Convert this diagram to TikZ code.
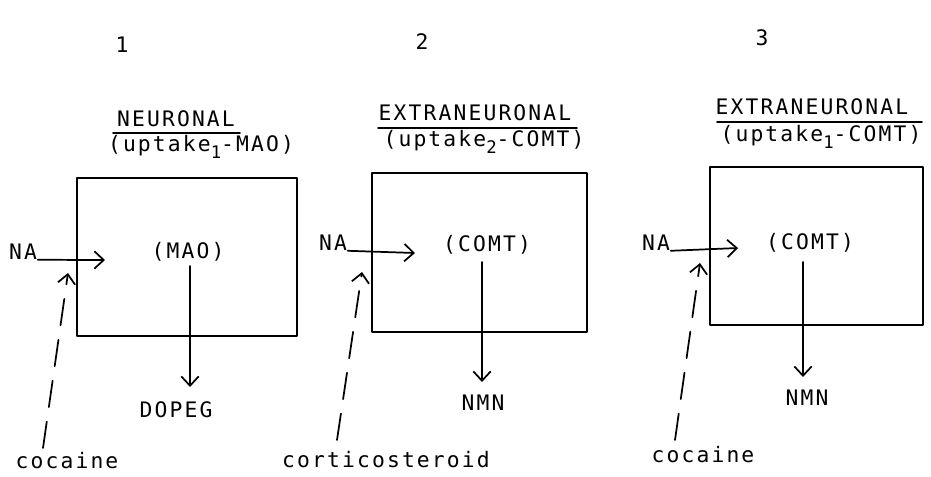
\documentclass[tikz,border=0pt]{standalone}
\usepackage{fontspec}
\setmonofont{DejaVu Sans Mono}[LetterSpace=10]
\usetikzlibrary{arrows.meta}
\newcommand{\lowidx}[1]{\raisebox{-0.3em}{\fontsize{13}{13}\selectfont #1}}

\begin{document}
\begin{tikzpicture}[x=0.75pt, y=-0.75pt, line width=1.3pt, line cap=round, line join=round,
    font=\fontsize{16}{19}\selectfont\ttfamily,
    >={Straight Barb[length=7pt,width=13pt]},
    lbl/.style={inner sep=0pt},
    cell/.style={draw, inner sep=0pt, minimum width=#1},
    cue/.style={->, dash pattern=on 20pt off 11pt}]

  % page size of the reference
  \useasboundingbox (0,0) rectangle (931,476);

  % column numbers
  \node[lbl] (n1) at (122,45) {1};
  \node[lbl] (n2) at (422,42) {2};
  \node[lbl] (n3) at (762,38) {3};

  % titles over the boxes
  \node[lbl] (t1) at (176,119) {NEURONAL};
  \node[lbl] (s1) at (201,147) {(uptake\lowidx{1}-MAO)};
  \draw (113,133) -- (240,133);
  \node[lbl] (t2) at (475,113) {EXTRANEURONAL};
  \node[lbl] (s2) at (484,142) {(uptake\lowidx{2}-COMT)};
  \draw (378,128) -- (577,128);
  \node[lbl] (t3) at (812,107) {EXTRANEURONAL};
  \node[lbl] (s3) at (821,137) {(uptake\lowidx{1}-COMT)};
  \draw (717,122) -- (922,122);

  % the three compartments
  \node[cell=165pt, minimum height=118.5pt] (b1) at (187,257) {};
  \node[cell=161.25pt, minimum height=119.25pt] (b2) at (479.5,252.5) {};
  \node[cell=159.75pt, minimum height=118.5pt] (b3) at (816.5,246) {};

  % enzymes inside
  \node[lbl] (e1) at (188,252) {(MAO)};
  \node[lbl] (e2) at (487,245) {(COMT)};
  \node[lbl] (e3) at (810,243) {(COMT)};

  % metabolites
  \node[lbl] (m1) at (176,410) {DOPEG};
  \node[lbl] (m2) at (483,403) {NMN};
  \node[lbl] (m3) at (807,398) {NMN};
  \draw[->] (190,266) -- (190,387);
  \draw[->] (482,262) -- (482,382);
  \draw[->] (803,262) -- (803,377);

  % noradrenaline entering
  \node[lbl] (na1) at (23,252) {NA};
  \node[lbl] (na2) at (333,243) {NA};
  \node[lbl] (na3) at (656,243) {NA};
  \coordinate (u1) at (105,260);
  \coordinate (u2) at (415,253);
  \coordinate (u3) at (738,248);
  \draw[->] (na1.base east) -- (u1);
  \draw[->] (na2.base east) -- (u2);
  \draw[->] (na3.base east) -- (u3);

  % blockers
  \node[lbl] (c1) at (67,461) {cocaine};
  \node[lbl] (c2) at (386,460) {corticosteroid};
  \node[lbl] (c3) at (703,455) {cocaine};
  \coordinate (k1) at (68,273);
  \coordinate (k2) at (362,272);
  \coordinate (k3) at (700,263);
  \draw[cue] (43,448) -- (k1);
  \draw[cue] (337,440) -- (k2);
  \draw[cue] (675,440) -- (k3);

\end{tikzpicture}
\end{document}
